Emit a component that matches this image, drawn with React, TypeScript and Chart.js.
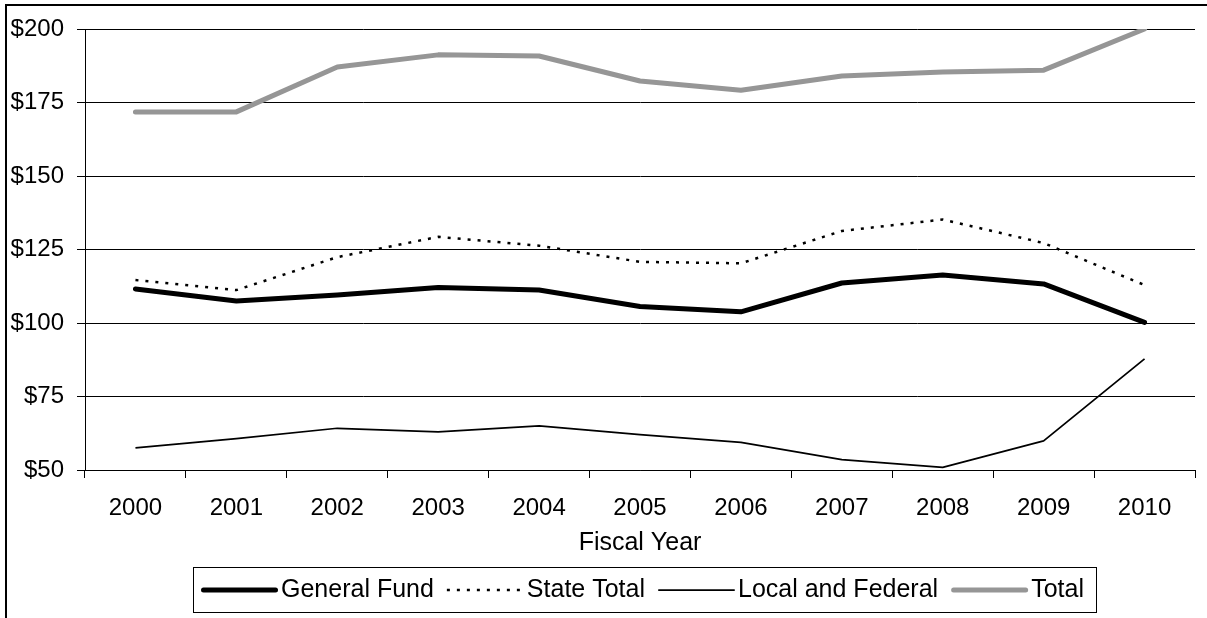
import React, { useEffect, useRef } from "react";
import { Chart, registerables } from "chart.js";

Chart.register(...registerables);

const years = ["2000", "2001", "2002", "2003", "2004", "2005", "2006", "2007", "2008", "2009", "2010"];
const generalFund = [111.6, 107.5, 109.5, 112.1, 111.2, 105.6, 103.8, 113.6, 116.3, 113.3, 100.2];
const stateTotal = [114.6, 111.2, 122.4, 129.3, 126.3, 120.8, 120.3, 131.3, 135.2, 127.2, 112.9];
const localFederal = [57.5, 60.7, 64.2, 63.0, 65.0, 62.0, 59.4, 53.5, 50.9, 59.9, 87.8];
const total = [171.8, 171.8, 187.1, 191.2, 190.8, 182.3, 179.2, 184.0, 185.4, 186.0, 200.0];
const yMin = 50;
const yMax = 200;
const yStep = 25;
const xTitle = "Fiscal Year";
const seriesLabels = ["General Fund", "State Total", "Local and Federal", "Total"];

const FONT = "'Liberation Sans', Arial, Helvetica, sans-serif";

const framePlugin = {
  id: "frameAndLegend",
  afterDraw(chart: any) {
    const ctx = chart.ctx as CanvasRenderingContext2D;
    ctx.save();
    // outer frame
    ctx.strokeStyle = "#000";
    ctx.lineWidth = 2;
    ctx.strokeRect(6, 5, 3000, 3000);

    // legend
    ctx.font = `25px ${FONT}`;
    const sampleW = 77;
    const gapS = 3;
    const gapT = 13;
    const padL = 8;
    const padR = 12;
    const items = chart.data.datasets.map((ds: any) => ({
      ds,
      label: ds.label as string,
      w: ctx.measureText(ds.label).width,
    }));
    let totalW = padL + padR;
    items.forEach((it: any, i: number) => {
      totalW += sampleW + gapS + it.w + (i < items.length - 1 ? gapT : 0);
    });
    const area = chart.chartArea;
    const cx = (area.left + area.right) / 2 + 4;
    const left = Math.round(cx - totalW / 2);
    const top = chart.height - 51;
    const h = 45;
    ctx.lineWidth = 1;
    ctx.strokeStyle = "#000";
    ctx.strokeRect(left + 0.5, top + 0.5, Math.round(totalW), h);
    const cy = top + h / 2 + 0.5;
    let x = left + padL;
    items.forEach((it: any) => {
      const ds = it.ds;
      ctx.save();
      ctx.strokeStyle = ds.borderColor;
      ctx.lineWidth = ds.borderWidth;
      ctx.setLineDash(ds.borderDash || []);
      ctx.lineCap = ds.borderDash && ds.borderDash.length ? "butt" : "round";
      ctx.beginPath();
      const inset = ctx.lineCap === "round" ? ds.borderWidth / 2 : 0;
      ctx.moveTo(x + inset, cy);
      ctx.lineTo(x + sampleW - inset, cy);
      ctx.stroke();
      ctx.restore();
      x += sampleW + gapS;
      ctx.fillStyle = "#000";
      ctx.textBaseline = "middle";
      ctx.textAlign = "left";
      ctx.fillText(it.label, x, cy);
      x += it.w + gapT;
    });
    ctx.restore();
  },
};

export default function App() {
  const canvasRef = useRef<HTMLCanvasElement | null>(null);

  useEffect(() => {
    document.body.style.margin = "0";
    const canvas = canvasRef.current;
    if (!canvas) return;
    Chart.defaults.font.family = FONT;
    Chart.defaults.color = "#000";

    const chart = new Chart(canvas, {
      type: "line",
      data: {
        labels: years,
        datasets: [
          {
            label: seriesLabels[0],
            data: generalFund,
            borderColor: "#000000",
            backgroundColor: "#000000",
            borderWidth: 5,
            pointRadius: 0,
            tension: 0,
            borderCapStyle: "round",
            borderJoinStyle: "round",
          },
          {
            label: seriesLabels[1],
            data: stateTotal,
            borderColor: "#000000",
            backgroundColor: "#000000",
            borderWidth: 2.5,
            borderDash: [3, 7],
            pointRadius: 0,
            tension: 0,
          },
          {
            label: seriesLabels[2],
            data: localFederal,
            borderColor: "#000000",
            backgroundColor: "#000000",
            borderWidth: 1.75,
            pointRadius: 0,
            tension: 0,
            borderJoinStyle: "round",
          },
          {
            label: seriesLabels[3],
            data: total,
            borderColor: "#969696",
            backgroundColor: "#969696",
            borderWidth: 5,
            pointRadius: 0,
            tension: 0,
            borderCapStyle: "round",
            borderJoinStyle: "round",
          },
        ],
      },
      options: {
        animation: false,
        responsive: true,
        maintainAspectRatio: false,
        layout: { padding: { top: 29, right: 12, bottom: 60, left: 0 } },
        plugins: {
          legend: { display: false },
          tooltip: { enabled: false },
        },
        scales: {
          x: {
            type: "category",
            offset: true,
            grid: {
              display: true,
              drawOnChartArea: false,
              drawTicks: true,
              tickLength: 8,
              offset: true,
              color: "#000",
              lineWidth: 1,
            },
            border: { display: true, color: "#000", width: 1 },
            ticks: { font: { size: 24 }, color: "#000", padding: 16, maxRotation: 0 },
            title: { display: true, text: xTitle, font: { size: 25 }, color: "#000", padding: 0 },
            afterFit: (scale: any) => {
              scale.height = 88;
            },
          },
          y: {
            min: yMin,
            max: yMax,
            grid: { color: "#000", lineWidth: 1, drawTicks: true, tickLength: 8 },
            border: { display: true, color: "#000", width: 1 },
            ticks: {
              stepSize: yStep,
              font: { size: 24 },
              color: "#000",
              padding: 13,
              callback: (v: any) => "$" + v,
            },
            afterFit: (scale: any) => {
              scale.width = 85;
            },
          },
        },
      },
      plugins: [framePlugin],
    });
    return () => chart.destroy();
  }, []);

  return (
    <div style={{ position: "relative", width: 1207, height: 618 }}>
      <canvas ref={canvasRef} />
    </div>
  );
}
